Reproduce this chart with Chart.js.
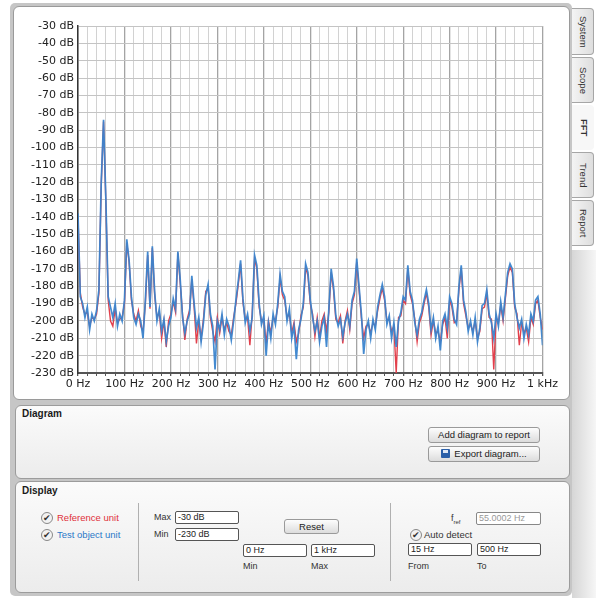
<!DOCTYPE html>
<html>
<head>
<meta charset="utf-8">
<script src="https://cdn.jsdelivr.net/npm/chart.js@4.4.1/dist/chart.umd.min.js"></script>
<style>
  body { margin: 0; width: 596px; height: 598px; background: #fff; position: relative; overflow: hidden;
         font-family: "Liberation Sans", Arial, sans-serif; color: #222; }
  .abs { position: absolute; }
  #outer { left: 10px; top: 3px; width: 562px; height: 593px; background: #c6c6c6; border-radius: 5px; }
  #chartPanel { left: 13px; top: 6px; width: 555px; height: 392px; background: #fff; border: 1px solid #9a9a9a; border-radius: 6px; }
  .panel { border: 1px solid #9c9c9c; border-radius: 6px; background: linear-gradient(#fbfbfb, #ececec); }
  .title { font-weight: bold; font-size: 10px; color: #1a1a1a; }
  .btn { border: 1px solid #9a9a9a; border-radius: 3px; background: linear-gradient(#fdfdfd, #dcdcdc);
         font-size: 9.5px; text-align: center; line-height: 14px; color: #222; box-sizing: border-box; }
  .inp { border: 1px solid #555; border-radius: 2px; background: #fff; font-size: 9px; line-height: 11px;
         padding-left: 2px; box-sizing: border-box; height: 13px; color: #222; }
  .lbl { font-size: 9px; color: #333; }
  .chk { width: 10px; height: 10px; border: 1px solid #888; border-radius: 50%; background: #f2f2f2;
         font-size: 9px; line-height: 10px; text-align: center; color: #333; }
  .tab { left: 572px; width: 22px; border: 1px solid #a6a6a6; border-left: none; border-radius: 0 4px 4px 0;
         background: linear-gradient(90deg, #f4f4f4, #dedede); box-sizing: border-box;
         writing-mode: vertical-rl; font-size: 9.5px; text-align: center; color: #333; line-height: 20px; }
  .vline { width: 1px; background: #b0b0b0; }
</style>
</head>
<body>
<div id="outer" class="abs"></div>
<div id="chartPanel" class="abs"></div>
<canvas id="fftChart" class="abs" width="545" height="385" style="left:15px;top:15px;width:545px;height:385px;"></canvas>

<!-- right tabs -->
<div class="abs" style="left:572px;top:250px;width:24px;height:348px;background:linear-gradient(90deg,#d6d6d6,#f6f6f6);"></div>
<div class="abs tab" style="top:8px;height:47px;">System</div>
<div class="abs tab" style="top:57px;height:46px;">Scope</div>
<div class="abs tab" style="top:105px;height:45px;background:#f7f7f7;border:none;font-weight:bold;">FFT</div>
<div class="abs tab" style="top:152px;height:46px;">Trend</div>
<div class="abs tab" style="top:200px;height:46px;">Report</div>

<!-- Diagram panel -->
<div class="abs panel" style="left:15px;top:405px;width:553px;height:72px;"></div>
<div class="abs title" style="left:22px;top:408px;">Diagram</div>
<div class="abs btn" style="left:428px;top:427px;width:112px;height:16px;">Add diagram to report</div>
<div class="abs btn" style="left:428px;top:446px;width:112px;height:16px;">
  <span style="display:inline-block;width:9px;height:9px;background:#2b5fa8;border-radius:1px;vertical-align:-1px;margin-right:4px;position:relative;">
    <span style="position:absolute;left:2px;top:1px;width:5px;height:3px;background:#dfe8f5;"></span>
  </span>Export diagram...</div>

<!-- Display panel -->
<div class="abs panel" style="left:15px;top:481px;width:553px;height:110px;"></div>
<div class="abs title" style="left:22px;top:485px;">Display</div>
<div class="abs vline" style="left:138px;top:503px;height:78px;"></div>
<div class="abs vline" style="left:390px;top:503px;height:78px;"></div>

<div class="abs chk" style="left:41px;top:512px;">✔</div>
<div class="abs lbl" style="left:57px;top:512px;color:#e0303a;font-size:9.5px;">Reference unit</div>
<div class="abs chk" style="left:41px;top:529px;">✔</div>
<div class="abs lbl" style="left:57px;top:529px;color:#2a78c8;font-size:9.5px;">Test object unit</div>

<div class="abs lbl" style="left:154px;top:512px;">Max</div>
<div class="abs inp" style="left:175px;top:511px;width:64px;">-30 dB</div>
<div class="abs lbl" style="left:154px;top:529px;">Min</div>
<div class="abs inp" style="left:175px;top:528px;width:64px;">-230 dB</div>
<div class="abs btn" style="left:284px;top:519px;width:55px;height:15px;">Reset</div>
<div class="abs inp" style="left:243px;top:544px;width:64px;">0 Hz</div>
<div class="abs inp" style="left:311px;top:544px;width:64px;">1 kHz</div>
<div class="abs lbl" style="left:243px;top:561px;">Min</div>
<div class="abs lbl" style="left:311px;top:561px;">Max</div>

<div class="abs lbl" style="left:451px;top:513px;">f<sub style="font-size:6px;">ref</sub></div>
<div class="abs inp" style="left:476px;top:512px;width:65px;color:#999;border-color:#888;">55.0002 Hz</div>
<div class="abs chk" style="left:410px;top:529px;">✔</div>
<div class="abs lbl" style="left:424px;top:529px;font-size:9.5px;">Auto detect</div>
<div class="abs inp" style="left:408px;top:543px;width:64px;">15 Hz</div>
<div class="abs inp" style="left:477px;top:543px;width:64px;">500 Hz</div>
<div class="abs lbl" style="left:408px;top:561px;">From</div>
<div class="abs lbl" style="left:477px;top:561px;">To</div>

<script>
// FFT spectrum, 5 Hz bins from 0 Hz to 1 kHz, values in dB
const freqs = [];
for (let f = 0; f <= 1000; f += 5) freqs.push(f);

const testObjectDb = [
  -138,-186,-190,-198,-192,-205,-196,-200,-194,-182,
  -120,-84,-130,-186,-192,-198,-190,-203,-196,-200,
  -188,-153,-165,-186,-198,-202,-196,-200,-210,-188,
  -160,-192,-157,-183,-200,-193,-206,-199,-212,-203,
  -198,-187,-193,-160,-176,-198,-207,-200,-196,-174,
  -190,-204,-198,-212,-201,-185,-179,-196,-203,-228,
  -200,-205,-196,-208,-199,-203,-211,-200,-188,-177,
  -165,-187,-201,-196,-206,-198,-162,-168,-190,-202,
  -197,-220,-201,-210,-196,-202,-190,-173,-183,-186,
  -200,-193,-210,-203,-222,-205,-199,-190,-167,-172,
  -188,-198,-206,-200,-212,-203,-198,-215,-193,-170,
  -180,-197,-203,-199,-209,-201,-196,-203,-188,-183,
  -164,-180,-196,-219,-205,-200,-210,-199,-205,-192,
  -185,-179,-186,-202,-197,-210,-201,-215,-200,-195,
  -186,-188,-168,-183,-188,-201,-208,-199,-195,-188,
  -182,-190,-205,-198,-210,-203,-217,-200,-196,-204,
  -186,-190,-199,-202,-180,-168,-188,-195,-206,-200,
  -208,-198,-212,-204,-191,-190,-182,-196,-201,-210,
  -196,-203,-189,-198,-185,-172,-167,-170,-190,-198,
  -204,-199,-210,-202,-208,-196,-200,-188,-186,-196,
  -214
];

const referenceDb = [
  -140,-184,-192,-196,-195,-203,-198,-199,-196,-184,
  -122,-85,-132,-188,-200,-203,-193,-201,-199,-198,
  -190,-155,-166,-188,-196,-200,-194,-203,-206,-190,
  -162,-193,-158,-185,-198,-195,-210,-200,-215,-200,
  -196,-189,-195,-161,-178,-196,-211,-199,-194,-176,
  -192,-213,-200,-210,-199,-183,-181,-198,-206,-212,
  -198,-207,-198,-205,-201,-206,-208,-198,-190,-179,
  -167,-189,-199,-198,-214,-196,-164,-170,-192,-200,
  -199,-213,-200,-207,-198,-200,-192,-175,-185,-188,
  -198,-196,-207,-201,-212,-207,-197,-192,-169,-174,
  -190,-196,-209,-198,-210,-200,-196,-206,-195,-172,
  -182,-199,-201,-197,-213,-200,-194,-205,-190,-185,
  -166,-182,-198,-210,-203,-202,-207,-201,-203,-194,
  -187,-181,-188,-200,-199,-206,-203,-230,-198,-197,
  -188,-190,-170,-185,-190,-199,-212,-201,-197,-190,
  -184,-192,-208,-200,-207,-206,-212,-202,-198,-210,
  -188,-192,-201,-200,-182,-170,-190,-197,-204,-202,
  -206,-200,-210,-206,-193,-192,-184,-198,-199,-228,
  -198,-201,-191,-200,-187,-174,-169,-172,-192,-196,
  -214,-201,-207,-204,-212,-198,-202,-190,-188,-198,
  -205
];

const yMin = -230, yMax = -30;
const xMin = 0, xMax = 1000;

function toPoints(arr) {
    return freqs.map((f, i) => ({ x: f, y: arr[i] }));
}

const ctx = document.getElementById('fftChart').getContext('2d');
new Chart(ctx, {
    type: 'line',
    data: {
        datasets: [{
            label: 'Test object unit',
            data: toPoints(testObjectDb),
            borderColor: 'rgba(58,132,205,0.95)',
            borderWidth: 1.7,
            pointRadius: 0,
            fill: false
        }, {
            label: 'Reference unit',
            data: toPoints(referenceDb),
            borderColor: '#e2404c',
            borderWidth: 1.4,
            pointRadius: 0,
            fill: false
        }]
    },
    options: {
        responsive: false,
        animation: false,
        layout: { padding: { left: 5, right: 16, top: 11, bottom: 5 } },
        plugins: { legend: { display: false }, tooltip: { enabled: false } },
        scales: {
            x: {
                type: 'linear',
                min: xMin,
                max: xMax,
                afterFit: (scale) => { scale.height = 22; },
                ticks: {
                    stepSize: 20,
                    autoSkip: false,
                    maxRotation: 0,
                    padding: 2,
                    color: '#222',
                    font: { family: 'DejaVu Sans', size: 11 },
                    callback: function(v) {
                        if (v % 100 !== 0) return '';
                        return v === 1000 ? '1 kHz' : v + ' Hz';
                    }
                },
                grid: {
                    color: (c) => (c.tick && c.tick.value % 100 === 0) ? '#a4a4a4' : '#d2d2d2',
                    lineWidth: (c) => (c.tick && c.tick.value % 100 === 0) ? 1.3 : 1,
                    tickLength: 3,
                    tickColor: '#555'
                },
                border: { color: '#555', width: 2 }
            },
            y: {
                min: yMin,
                max: yMax,
                afterFit: (scale) => { scale.width = 58; },
                ticks: {
                    stepSize: 10,
                    padding: 4,
                    color: '#222',
                    font: { family: 'DejaVu Sans', size: 11 },
                    callback: (v) => v + ' dB'
                },
                grid: { color: '#c4c4c4', lineWidth: 1, drawTicks: false },
                border: { color: '#333', width: 1.5 }
            }
        }
    }
});
</script>
</body>
</html>
